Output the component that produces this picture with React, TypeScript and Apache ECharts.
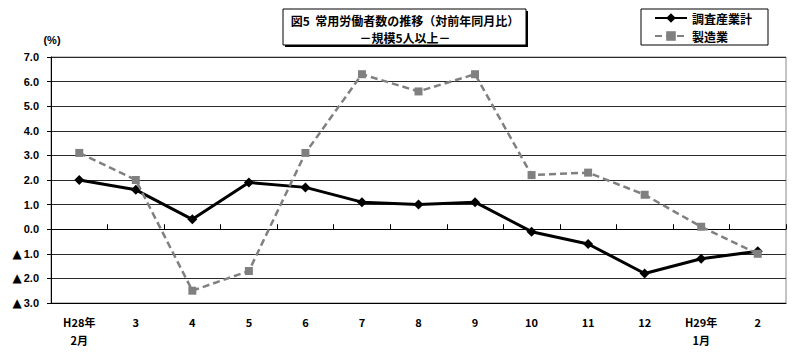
import React, { useEffect, useRef } from "react";
import * as echarts from "echarts";

const categories = ["H28年\n2月", "3", "4", "5", "6", "7", "8", "9", "10", "11", "12", "H29年\n1月", "2"];
const totalIndustry = [2.0, 1.6, 0.4, 1.9, 1.7, 1.1, 1.0, 1.1, -0.1, -0.6, -1.8, -1.2, -0.9];
const manufacturing = [3.1, 2.0, -2.5, -1.7, 3.1, 6.3, 5.6, 6.3, 2.2, 2.3, 1.4, 0.1, -1.0];
const seriesNames = ["調査産業計", "製造業"];
const titleLine1 = "図5  常用労働者数の推移（対前年同月比）";
const titleLine2 = "－規模5人以上－";
const unitLabel = "(%)";

const JP = '"Noto Sans CJK JP", sans-serif';
const LAT = '"Liberation Sans", Arial, sans-serif';

export default function App() {
  const ref = useRef<HTMLDivElement>(null);
  useEffect(() => {
    if (!ref.current) return;
    const chart = echarts.init(ref.current, null, { renderer: "svg" });
    chart.setOption({
      animation: false,
      backgroundColor: "#ffffff",
      grid: {
        left: 51,
        right: 14,
        top: 57,
        bottom: 51,
        show: true,
        borderColor: "#888888",
        borderWidth: 1,
      },
      legend: {
        left: 641,
        top: 9,
        orient: "vertical",
        padding: [3, 16, 3, 13],
        itemGap: 6,
        itemWidth: 32,
        itemHeight: 12,
        borderColor: "#000",
        borderWidth: 1,
        backgroundColor: "#fff",
        textStyle: { fontFamily: JP, fontWeight: "bold", fontSize: 12, lineHeight: 12, height: 12, color: "#000" },
        data: seriesNames,
      },
      xAxis: [
        {
          type: "category",
          data: categories,
          boundaryGap: true,
          axisLine: { show: true, onZero: true, lineStyle: { color: "#000", width: 1 } },
          axisTick: { show: true, inside: true, length: 5, lineStyle: { color: "#000" } },
          axisLabel: { show: false },
          splitLine: { show: false },
        },
        {
          type: "category",
          data: categories,
          boundaryGap: true,
          position: "bottom",
          axisLine: { show: true, onZero: false, lineStyle: { color: "#000", width: 1 } },
          axisTick: { show: false },
          axisLabel: {
            show: true,
            interval: 0,
            margin: 10,
            fontFamily: JP,
            fontWeight: "bold",
            fontSize: 11,
            color: "#000",
            lineHeight: 18,
            verticalAlign: "top",
          },
          splitLine: { show: false },
        },
      ],
      yAxis: {
        type: "value",
        min: -3,
        max: 7,
        interval: 1,
        axisLine: { show: true, lineStyle: { color: "#000", width: 1 } },
        axisTick: { show: true, inside: false, length: 4, lineStyle: { color: "#000" } },
        splitLine: { show: true, lineStyle: { color: "#2a2a2a", width: 1 } },
        axisLabel: {
          margin: 12,
          color: "#000",
          fontFamily: LAT,
          fontWeight: "bold",
          fontSize: 11,
          formatter: (v: number) =>
            v < 0 ? "{t|▲}" + Math.abs(v).toFixed(1) : v.toFixed(1),
          rich: {
            t: { fontSize: 12, fontFamily: '"DejaVu Sans", sans-serif', color: "#000", padding: [0, 2, 0, 0] },
          },
        },
      },
      series: [
        {
          name: seriesNames[0],
          type: "line",
          xAxisIndex: 0,
          data: totalIndustry,
          symbol: "diamond",
          symbolSize: 10,
          itemStyle: { color: "#000" },
          lineStyle: { color: "#000", width: 3 },
          z: 3,
        },
        {
          name: seriesNames[1],
          type: "line",
          xAxisIndex: 0,
          data: manufacturing,
          symbol: "rect",
          symbolSize: 8,
          itemStyle: { color: "#808080" },
          lineStyle: { color: "#808080", width: 2.5, type: [7, 4] },
          z: 4,
        },
      ],
      graphic: [
        { type: "rect", shape: { x: 285, y: 11, width: 243, height: 36 }, style: { fill: "#000" }, z: 10 },
        { type: "rect", shape: { x: 283, y: 9, width: 243, height: 36 }, style: { fill: "#fff", stroke: "#000", lineWidth: 1 }, z: 11 },
        {
          type: "text",
          x: 405,
          y: 20,
          z: 12,
          style: { text: titleLine1, fontFamily: JP, fontWeight: "bold", fontSize: 12, fill: "#000", align: "center", verticalAlign: "middle" },
        },
        {
          type: "text",
          x: 405,
          y: 37,
          z: 12,
          style: { text: titleLine2, fontFamily: JP, fontWeight: "bold", fontSize: 12, fill: "#000", align: "center", verticalAlign: "middle" },
        },
        {
          type: "text",
          x: 52,
          y: 40,
          z: 12,
          style: { text: unitLabel, fontFamily: LAT, fontWeight: "bold", fontSize: 11, fill: "#000", align: "center", verticalAlign: "middle" },
        },
      ],
    });
    return () => chart.dispose();
  }, []);
  return <div ref={ref} style={{ width: 800, height: 354, position: "absolute", left: 0, top: 0 }} />;
}
